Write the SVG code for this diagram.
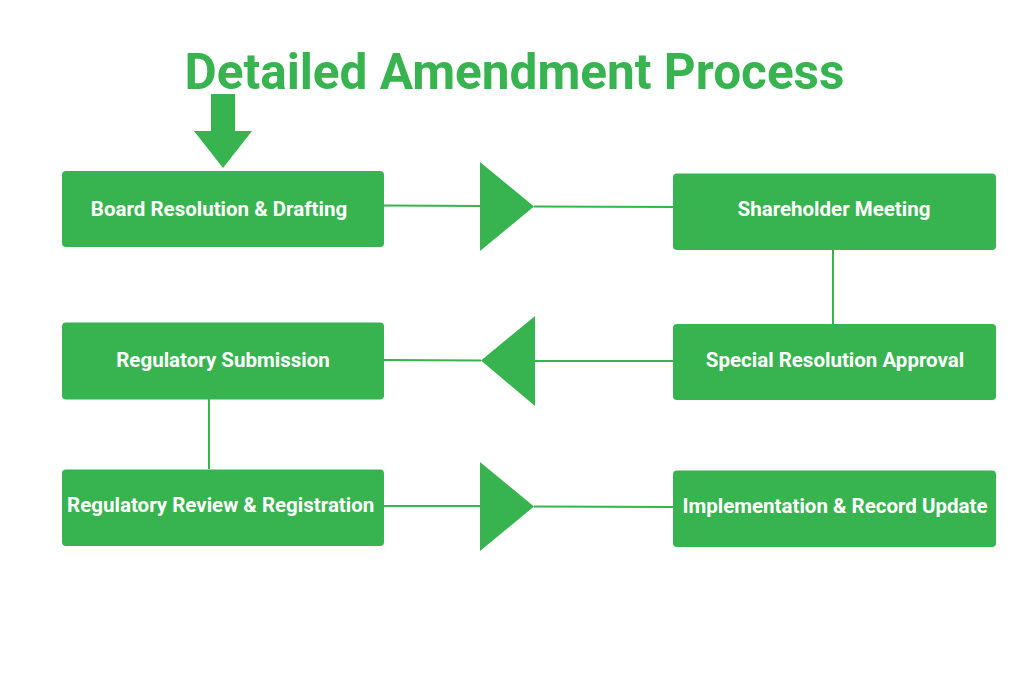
<svg xmlns="http://www.w3.org/2000/svg" width="1024" height="683" viewBox="0 0 1024 683">
<style>
.box{fill:#37b34f;}
.lbl{font-family:Roboto,"Liberation Sans",sans-serif;font-weight:bold;font-size:20.5px;fill:#ffffff;text-anchor:middle;}
.ln{stroke:#37b34f;stroke-width:2;fill:none;}
.tri{fill:#37b34f;}
.title{font-family:Roboto,"Liberation Sans",sans-serif;font-weight:bold;font-size:49.5px;fill:#37b34f;text-anchor:middle;}
</style>
<rect width="1024" height="683" fill="#ffffff"/>
<text class="title" x="514.5" y="88.5">Detailed Amendment Process</text>
<g id="connectors">
<polygon class="tri" points="211,94 235,94 235,131 252,131 223,168 194,131 211,131"/>
<line class="ln" x1="384" y1="205.5" x2="481" y2="206"/>
<polygon class="tri" points="480,162 534,206.5 480,251"/>
<line class="ln" x1="534" y1="206.5" x2="673" y2="207"/>
<line class="ln" x1="833" y1="250" x2="833" y2="324"/>
<line class="ln" x1="673" y1="361" x2="535" y2="361"/>
<polygon class="tri" points="535,316 481,360.5 535,406"/>
<line class="ln" x1="481" y1="360.5" x2="384" y2="360"/>
<line class="ln" x1="209" y1="399" x2="209" y2="469"/>
<line class="ln" x1="384" y1="506" x2="481" y2="506"/>
<polygon class="tri" points="480,462 534,506.5 480,551"/>
<line class="ln" x1="534" y1="506.5" x2="673" y2="507"/>
</g>
<g id="n1"><rect class="box" x="62" y="171" width="322" height="76" rx="4"/><text class="lbl" x="219" y="215.5">Board Resolution &amp; Drafting</text></g>
<g id="n2"><rect class="box" x="673" y="173.5" width="323" height="76.5" rx="4"/><text class="lbl" x="834" y="216">Shareholder Meeting</text></g>
<g id="n3"><rect class="box" x="673" y="324" width="323" height="76" rx="4"/><text class="lbl" x="835" y="367">Special Resolution Approval</text></g>
<g id="n4"><rect class="box" x="62" y="322.5" width="322" height="77" rx="4"/><text class="lbl" x="223" y="367">Regulatory Submission</text></g>
<g id="n5"><rect class="box" x="62" y="469.5" width="322" height="76.5" rx="4"/><text class="lbl" x="220.7" y="512">Regulatory Review &amp; Registration</text></g>
<g id="n6"><rect class="box" x="673" y="470.5" width="323" height="76.5" rx="4"/><text class="lbl" x="835" y="513">Implementation &amp; Record Update</text></g>
</svg>
